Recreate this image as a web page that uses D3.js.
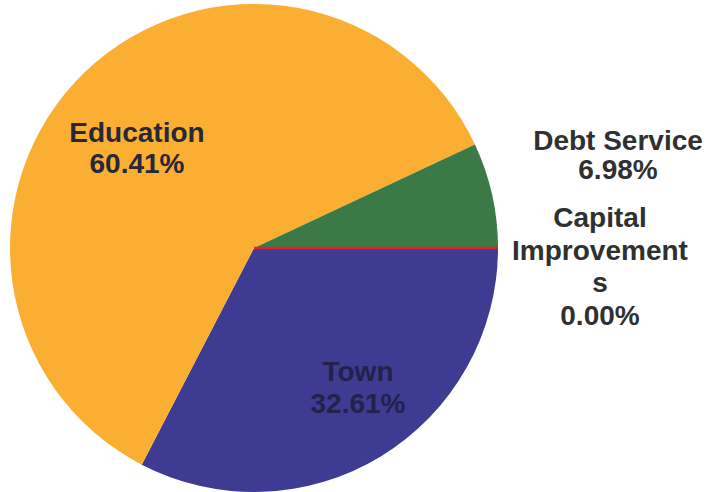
<!DOCTYPE html>
<html>
<head>
<meta charset="utf-8">
<script src="https://cdn.jsdelivr.net/npm/d3@7/dist/d3.min.js"></script>
<style>
  html, body { margin: 0; padding: 0; background: #ffffff; }
  svg { display: block; }
  text { font-family: "Liberation Sans", Arial, Helvetica, sans-serif; font-weight: bold; }
</style>
</head>
<body>
<svg id="chart" width="712" height="492"></svg>
<script>
// Budget share by category (percent), in drawing order starting at 3 o'clock, clockwise
const categories = ["Town", "Education", "Debt Service", "Capital Improvements"];
const shares = [32.61, 60.41, 6.98, 0.00];
const labelLines = [
  ["Town", "32.61%"],
  ["Education", "60.41%"],
  ["Debt Service", "6.98%"],
  ["Capital", "Improvement", "s", "0.00%"]
];
const colors = ["#3d3c92", "#fbaf32", "#3b7a46", "#e0222c"];

const width = 712, height = 492;
const cx = 254, cy = 248, radius = 244;

const svg = d3.select("#chart");
const g = svg.append("g").attr("transform", `translate(${cx},${cy})`);

const data = categories.map((c, i) => ({ name: c, value: shares[i], color: colors[i], lines: labelLines[i] }));

const pie = d3.pie()
  .value(d => d.value)
  .sort(null)
  .startAngle(Math.PI / 2)
  .endAngle(Math.PI / 2 + 2 * Math.PI);

const arc = d3.arc().innerRadius(0).outerRadius(radius);
const arcs = pie(data);

// Filled slices
g.selectAll("path.slice")
  .data(arcs.filter(a => a.data.value > 0))
  .join("path")
  .attr("class", "slice")
  .attr("d", arc)
  .attr("fill", d => d.data.color);

// Zero-size slice shows as a thin radial line at its angle
const rScale = d3.scaleLinear().domain([0, 1]).range([0, radius]);
g.selectAll("line.zero")
  .data(arcs.filter(a => a.data.value === 0))
  .join("line")
  .attr("class", "zero")
  .attr("x1", 0).attr("y1", 0)
  .attr("x2", d => rScale(1) * Math.sin(d.startAngle))
  .attr("y2", d => -rScale(1) * Math.cos(d.startAngle))
  .attr("stroke", d => d.data.color)
  .attr("stroke-width", 2.5);

// Label placement (page coordinates of first baseline, line step, colour)
const labelLayout = {
  "Town":                 { x: 358, y: 381, step: 32, fill: "#22224a" },
  "Education":            { x: 137, y: 142, step: 31, fill: "#272738" },
  "Debt Service":         { x: 618, y: 150, step: 29, fill: "#303030" },
  "Capital Improvements": { x: 600, y: 227, step: 32.5, fill: "#303030" }
};

const labels = svg.selectAll("text.label")
  .data(data)
  .join("text")
  .attr("class", "label")
  .attr("text-anchor", "middle")
  .attr("font-size", 28)
  .attr("fill", d => labelLayout[d.name].fill);

labels.each(function(d) {
  const L = labelLayout[d.name];
  d3.select(this).selectAll("tspan")
    .data(d.lines)
    .join("tspan")
    .attr("x", L.x)
    .attr("y", (t, i) => L.y + i * L.step)
    .text(t => t);
});
</script>
</body>
</html>
